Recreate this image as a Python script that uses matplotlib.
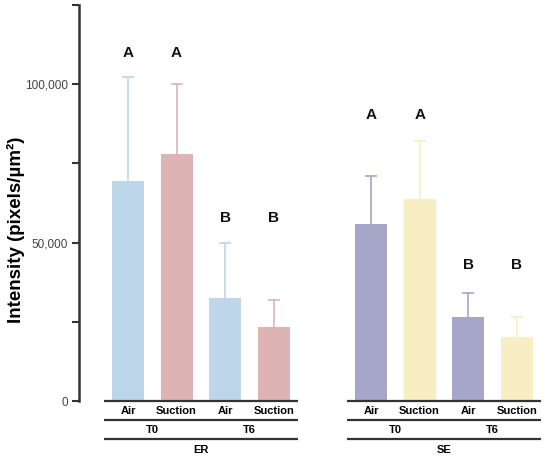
import matplotlib
matplotlib.use("Agg")
import matplotlib.pyplot as plt
import matplotlib.transforms as mtransforms

plt.rcParams['font.family'] = ['Liberation Sans', 'DejaVu Sans']

# data
tissues = ["ER", "SE"]
times = ["T0", "T6"]
treatments = ["Air", "Suction"]
means = [69400, 78000, 32400, 23500, 55900, 63800, 26400, 20300]
upper_err = [32800, 22000, 17400, 8300, 15200, 18300, 7700, 6100]
letters = ["A", "A", "B", "B", "A", "A", "B", "B"]
letter_y = [109800, 109800, 57800, 57800, 90300, 90300, 42900, 42900]
colors = ["#bdd6ea", "#ddb3b4", "#bdd6ea", "#ddb3b4",
          "#a6a6c8", "#f7efc3", "#a6a6c8", "#f7efc3"]

positions = [0, 1, 2, 3, 5, 6, 7, 8]
line_col = "#333333"

fig = plt.figure(figsize=(5.5, 4.62), dpi=100)
ax = fig.add_axes([79 / 550, 61 / 462, 469 / 550, 396 / 462])

for i, x in enumerate(positions):
    ax.bar(x, means[i], width=0.66, color=colors[i], zorder=2)
    # upward-only error bar with a cap at the top
    top = means[i] + upper_err[i]
    ax.plot([x, x], [means[i], top], color=colors[i], lw=1.2, zorder=1)
    ax.plot([x], [top], marker="_", markersize=8, markeredgewidth=1.2,
            color=colors[i], zorder=1)
    ax.text(x, letter_y[i], letters[i], ha="center", va="center",
            fontsize=11, fontweight="bold", color="#111111")

ax.set_xlim(-1.008, 8.64)
ax.set_ylim(0, 125000)
ax.set_yticks([0, 50000, 100000])
ax.set_yticklabels(["0", "50,000", "100,000"])
ax.set_yticks([25000, 75000, 125000], minor=True)
ax.tick_params(axis="y", which="both", length=5, width=1.5, color=line_col,
               labelsize=8.5, labelcolor="#444444", pad=3)
ax.set_xticks([])
for s in ["top", "right", "bottom"]:
    ax.spines[s].set_visible(False)
ax.spines["left"].set_linewidth(1.8)
ax.spines["left"].set_color(line_col)

fig.text(16 / 550, 1 - 230 / 462, "Intensity (pixels/\u00b5m\u00b2)",
         rotation=90, ha="center", va="center", fontsize=13.5,
         fontweight="bold")

# grouped category axis below the bars
trans = mtransforms.blended_transform_factory(ax.transData, ax.transAxes)
for g, tissue in enumerate(tissues):
    x0 = positions[g * 4] - 0.5
    x1 = positions[g * 4 + 3] + 0.5
    for yl in [0.0, -0.048, -0.096]:
        ax.plot([x0, x1], [yl, yl], color=line_col, lw=1.6,
                transform=trans, clip_on=False, solid_capstyle="butt")
    for k in range(4):
        ax.text(positions[g * 4 + k], -0.025, treatments[k % 2],
                transform=trans, ha="center", va="center",
                fontsize=8, fontweight="bold")
    for t, tm in enumerate(times):
        xc = (positions[g * 4 + 2 * t] + positions[g * 4 + 2 * t + 1]) / 2
        ax.text(xc, -0.073, tm, transform=trans, ha="center", va="center",
                fontsize=8, fontweight="bold")
    ax.text((x0 + x1) / 2, -0.124, tissue, transform=trans, ha="center",
            va="center", fontsize=8, fontweight="bold")

fig.savefig("out.png", dpi=100)
